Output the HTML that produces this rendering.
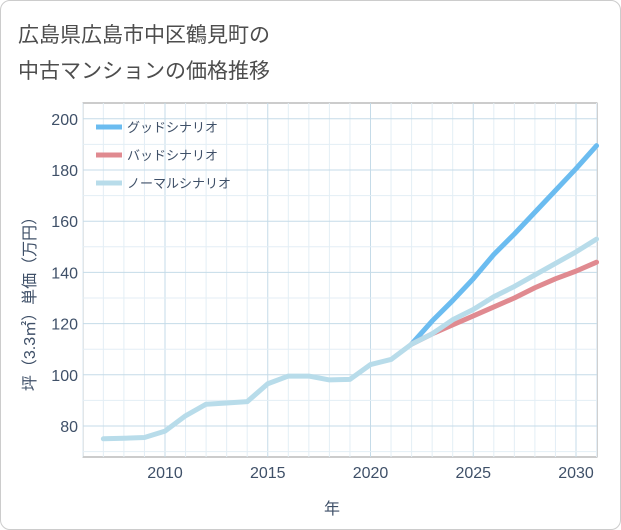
<!DOCTYPE html>
<html><head><meta charset="utf-8"><style>
body{margin:0;background:#fff;}
#card{position:absolute;left:0;top:0;width:619px;height:528px;border:1px solid #ccc;border-radius:10px;background:#fff;font-family:"Liberation Sans","Noto Sans CJK JP",sans-serif;}
</style></head><body>
<div id="card">
<svg id="chart" width="621" height="530" style="position:absolute;left:-1px;top:-1px">
<text x="18" y="42" font-size="21" fill="#4d4d4d" font-family="Liberation Sans,Noto Sans CJK JP,sans-serif">広島県広島市中区鶴見町の</text>
<text x="18" y="78" font-size="21" fill="#4d4d4d" font-family="Liberation Sans,Noto Sans CJK JP,sans-serif">中古マンションの価格推移</text>
<g id="grid"></g><g id="axes"></g><g id="series"></g><g id="legend"></g>
<text x="332" y="514" font-size="16" fill="#3f5068" text-anchor="middle" font-family="Liberation Sans,Noto Sans CJK JP,sans-serif">年</text>
<text transform="translate(35,300) rotate(-90)" font-size="16" fill="#3f5068" text-anchor="middle" font-family="Liberation Sans,Noto Sans CJK JP,sans-serif">坪（3.3㎡）単価（万円）</text>
</svg></div>
<script>
const years=[2007,2008,2009,2010,2011,2012,2013,2014,2015,2016,2017,2018,2019,2020,2021,2022,2023,2024,2025,2026,2027,2028,2029,2030,2031];
const normal=[75,75.2,75.5,78,84,88.5,89,89.5,96.5,99.5,99.5,98,98.2,104,106,112,116,121.5,125.5,130.5,134.5,139,143.5,148,153];
const goodYears=[2022,2023,2024,2025,2026,2027,2028,2029,2030,2031];
const good=[112,121,129,137.5,147,155,163.5,172,180.5,189.5];
const bad=[112,116,119.5,123,126.5,130,134,137.5,140.5,144];
const xTicks=[2010,2015,2020,2025,2030];
const yTicks=[80,100,120,140,160,180,200];
const L=83,R=597,T=103,B=457;
const X=v=>165+(v-2010)*20.55, Y=v=>426-(v-80)*2.56;
const ns='http://www.w3.org/2000/svg';
function mk(p,t,a){const e=document.createElementNS(ns,t);for(const k in a)e.setAttribute(k,a[k]);document.getElementById(p).appendChild(e);return e;}
let r=mk('grid','rect',{x:L,y:T,width:R-L,height:B-T,fill:'#fff',stroke:'#999','stroke-width':1});

for(let y=2006;y<=2031;y++){let l=mk('grid','line',{x1:X(y),x2:X(y),y1:T,y2:B,stroke:y%5==0?'#c5dbe8':'#e3eef5','stroke-width':1});}
for(let v=70;v<=205;v+=10){if(Y(v)<T||Y(v)>B)continue;let l=mk('grid','line',{x1:L,x2:R,y1:Y(v),y2:Y(v),stroke:v%20==0?'#c5dbe8':'#e3eef5','stroke-width':1});}
xTicks.forEach(t=>{let e=mk('axes','text',{x:X(t),y:478,'font-size':16,fill:'#3f5068','text-anchor':'middle'});e.textContent=t;});
yTicks.forEach(t=>{let e=mk('axes','text',{x:78,y:Y(t)+6,'font-size':16,fill:'#3f5068','text-anchor':'end'});e.textContent=t;});
function line(xs,vs,c,n){let p=mk('series','polyline',{points:xs.map((x,i)=>X(x)+','+Y(vs[i])).join(' '),fill:'none',stroke:c,'stroke-width':5,'stroke-linejoin':'round','stroke-linecap':'round'});}
line(goodYears,good,'#6bbcf0','good-scenario-line');
line(goodYears,bad,'#e08a90','bad-scenario-line');
line(years,normal,'#b8dcea','normal-scenario-line');
const leg=[['グッドシナリオ','#6bbcf0'],['バッドシナリオ','#e08a90'],['ノーマルシナリオ','#b8dcea']];
leg.forEach((g,i)=>{let y=127+i*28;let l=mk('legend','line',{x1:96,x2:122,y1:y,y2:y,stroke:g[1],'stroke-width':5});let t=mk('legend','text',{x:127,y:y+5,'font-size':13,fill:'#3f5068'});t.textContent=g[0];});
</script></body></html>
